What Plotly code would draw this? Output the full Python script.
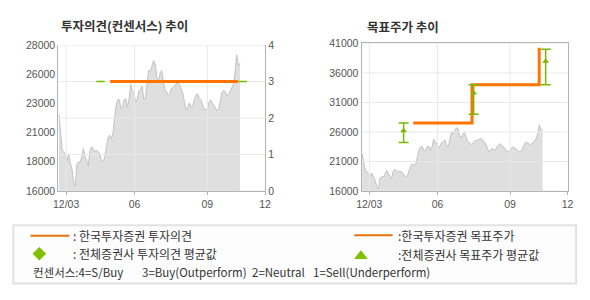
import plotly.graph_objects as go

W, H = 590, 300

# ---------------- data ----------------
# daily closing price (KRW), evenly spaced trading-day index
PRICE = [22300, 20900, 19400, 19230, 18970, 18450, 19050, 18300, 17790, 16740,
         16400, 18200, 18400, 18350, 18800, 19500, 18840, 18500, 18050, 19300,
         19630, 19500, 19230, 19370, 19230, 19100, 18500, 18450, 18700, 19400,
         20300, 20600, 20300, 20600, 21800, 23000, 23500, 23500, 22800, 22900,
         23500, 23600, 22900, 23500, 24800, 24230, 24100, 23310, 23570, 24230,
         24360, 24630, 23570, 23570, 24760, 25940, 25810, 26200, 26730, 26500,
         25400, 24950, 25700, 25900, 24900, 24300, 24150, 23900, 24000, 24450,
         24500, 24650, 24850, 24890, 24750, 24400, 24000, 23300, 22650, 22900,
         23250, 22900, 23000, 23500, 23900, 24000, 23600, 23500, 23100, 22700,
         22750, 22700, 23300, 23500, 23250, 23000, 22850, 22600, 22750, 23400,
         24100, 24300, 24150, 23850, 23950, 24200, 24500, 24800, 25700, 27200,
         26300, 26500]
DAY = list(range(len(PRICE)))

X_RANGE = [-0.4, 126.4]
X_TICK_POS = [4.4, 46.4, 91.0, 126.4]
X_TICK_TEXT = ["12/03", "06", "09", "12"]

# investment opinion (Korea Investment & Securities): 3 = Buy
OPINION_DAYS = [31.4, 109.8]
OPINION_VALUES = [3, 3]
# consensus average opinion
CONS_DAYS = [25.5, 112.6]
CONS_VALUES = [3, 3]

# target price (Korea Investment & Securities)
TARGET_DAYS = [31.4, 67.6, 108.9, 109.8]
TARGET_VALUES = [27500, 34000, 40000, 40000]
# consensus target price: mean, high, low
AVG_TP_DAYS = [25.5, 68.6, 112.9]
AVG_TP_MEAN = [26200, 32600, 38000]
AVG_TP_HIGH = [27500, 34000, 40000]
AVG_TP_LOW = [24200, 29000, 34000]

L_Y_RANGE = [16000, 28000]
L_Y_TICKS = [16000, 18400, 20800, 23200, 25600, 28000]
L_Y_TEXT = ["16000", "18000", "21000", "23000", "26000", "28000"]
L_Y2_RANGE = [0, 4]
L_Y2_TICKS = [0, 1, 2, 3, 4]
R_Y_RANGE = [16000, 41000]
R_Y_TICKS = [16000, 21000, 26000, 31000, 36000, 41000]
R_Y_TEXT = ["16000", "21000", "26000", "31000", "36000", "41000"]

# ---------------- style ----------------
ORANGE = "#ff7300"
GREEN = "#7ab800"
GRID = "#e9e9e9"
AXIS = "#b4b4b4"
TICKFONT = dict(family="Liberation Sans, Arial, sans-serif", size=10.5, color="#555555")
KFONT = "Noto Sans CJK KR, sans-serif"
CONS_HALF = 2.6


def px(x):
    return x / W


def py(y):
    return 1 - y / H


fig = go.Figure()

# ---- left chart: opinion ----
fig.add_trace(go.Scatter(x=DAY, y=PRICE, mode="lines", fill="tozeroy",
                         fillcolor="#dfdfdf", line=dict(color="#c2c2c2", width=1),
                         xaxis="x", yaxis="y", hoverinfo="skip"))
# grid (drawn over the price area)
gx, gy = [], []
for v in L_Y2_TICKS:
    gx += [X_RANGE[0], X_RANGE[1], None]
    gy += [v, v, None]
for t in X_TICK_POS[:-1]:
    gx += [t, t, None]
    gy += [L_Y2_RANGE[0], L_Y2_RANGE[1], None]
fig.add_trace(go.Scatter(x=gx, y=gy, mode="lines", line=dict(color=GRID, width=1),
                         xaxis="x", yaxis="y2", hoverinfo="skip"))
cx, cy = [], []
for d, v in zip(CONS_DAYS, CONS_VALUES):
    cx += [d - CONS_HALF, d + CONS_HALF, None]
    cy += [v, v, None]
fig.add_trace(go.Scatter(x=cx, y=cy, mode="lines", line=dict(color=GREEN, width=1.5),
                         xaxis="x", yaxis="y2", hoverinfo="skip"))
fig.add_trace(go.Scatter(x=OPINION_DAYS, y=OPINION_VALUES, mode="lines",
                         line=dict(color=ORANGE, width=3), xaxis="x", yaxis="y2"))

# ---- right chart: target price ----
fig.add_trace(go.Scatter(x=DAY, y=PRICE, mode="lines", fill="tozeroy",
                         fillcolor="#dfdfdf", line=dict(color="#c2c2c2", width=1),
                         xaxis="x2", yaxis="y3", hoverinfo="skip"))
gx, gy = [], []
for v in R_Y_TICKS:
    gx += [X_RANGE[0], X_RANGE[1], None]
    gy += [v, v, None]
for t in X_TICK_POS[:-1]:
    gx += [t, t, None]
    gy += [R_Y_RANGE[0], R_Y_RANGE[1], None]
fig.add_trace(go.Scatter(x=gx, y=gy, mode="lines", line=dict(color=GRID, width=1),
                         xaxis="x2", yaxis="y3", hoverinfo="skip"))
fig.add_trace(go.Scatter(x=TARGET_DAYS, y=TARGET_VALUES, mode="lines", line_shape="hv",
                         line=dict(color=ORANGE, width=3), xaxis="x2", yaxis="y3"))
fig.add_trace(go.Scatter(
    x=AVG_TP_DAYS, y=AVG_TP_MEAN, mode="markers",
    marker=dict(symbol="triangle-up", size=6, color=GREEN),
    error_y=dict(type="data", symmetric=False,
                 array=[h - m for h, m in zip(AVG_TP_HIGH, AVG_TP_MEAN)],
                 arrayminus=[m - l for m, l in zip(AVG_TP_MEAN, AVG_TP_LOW)],
                 color=GREEN, thickness=1.5, width=5),
    xaxis="x2", yaxis="y3"))

xcommon = dict(range=X_RANGE, tickmode="array", tickvals=X_TICK_POS, ticktext=X_TICK_TEXT,
               showgrid=False, zeroline=False, showline=True, linecolor=AXIS, linewidth=1,
               ticks="outside", ticklen=3, tickcolor=AXIS, tickfont=TICKFONT, fixedrange=True)

fig.update_layout(
    width=W, height=H, margin=dict(l=0, r=0, t=0, b=0), autosize=False,
    paper_bgcolor="white", plot_bgcolor="white", showlegend=False,
    xaxis=dict(domain=[px(54.3), px(265)], anchor="y", **xcommon),
    yaxis=dict(domain=[py(192.7), py(40.7)], anchor="x", range=L_Y_RANGE,
               tickmode="array", tickvals=L_Y_TICKS, ticktext=L_Y_TEXT,
               showgrid=False, zeroline=False, showline=True, linecolor=AXIS,
               tickfont=TICKFONT, ticks="", fixedrange=True),
    yaxis2=dict(overlaying="y", side="right", anchor="x", range=L_Y2_RANGE,
                tickmode="array", tickvals=L_Y2_TICKS,
                showgrid=False, zeroline=False, showline=True, linecolor=AXIS,
                tickfont=TICKFONT, ticks="", fixedrange=True),
    xaxis2=dict(domain=[px(363.3), px(573.3)], anchor="y3", mirror=True, **xcommon),
    yaxis3=dict(domain=[py(192.7), py(39)], anchor="x2", range=R_Y_RANGE,
                tickmode="array", tickvals=R_Y_TICKS, ticktext=R_Y_TEXT,
                showgrid=False, zeroline=False, showline=True, linecolor=AXIS, mirror=True,
                tickfont=TICKFONT, ticks="", fixedrange=True),
)

# ---- titles ----
fig.add_annotation(text="<b>투자의견(컨센서스) 추이</b>", x=px(55), y=py(20), xref="paper", yref="paper",
                   xanchor="left", yanchor="middle", showarrow=False,
                   font=dict(family=KFONT, size=12.5, color="#333333"))
fig.add_annotation(text="<b>목표주가 추이</b>", x=px(367), y=py(21), xref="paper", yref="paper",
                   xanchor="left", yanchor="middle", showarrow=False,
                   font=dict(family=KFONT, size=12.5, color="#333333"))

# ---- legend box ----
shapes = [
    dict(type="rect", xref="paper", yref="paper", x0=px(8.5), x1=px(582), y0=py(289), y1=py(228.5),
         line=dict(color="#e2e2e2", width=2), fillcolor="#fdfdfd", layer="below"),
    dict(type="line", xref="paper", yref="paper", x0=px(26), x1=px(65.7), y0=py(239.3), y1=py(239.3),
         line=dict(color="#e8730c", width=2)),
    dict(type="line", xref="paper", yref="paper", x0=px(356), x1=px(395), y0=py(238.7), y1=py(238.7),
         line=dict(color="#e8730c", width=2)),
    dict(type="path", xref="paper", yref="paper",
         path=f"M {px(35)} {py(251)} L {px(42)} {py(258)} L {px(35)} {py(265)} L {px(28)} {py(258)} Z",
         fillcolor="#80c000", line=dict(width=0)),
    dict(type="path", xref="paper", yref="paper",
         path=f"M {px(362.7)} {py(254.5)} L {px(369.7)} {py(263.5)} L {px(355.7)} {py(263.5)} Z",
         fillcolor="#80c000", line=dict(width=0)),
]
fig.update_layout(shapes=shapes)

legend_texts = [
    (": 한국투자증권 투자의견", 67.5, 239.5, 12),
    (": 전체증권사 투자의견 평균값", 67.5, 258, 12),
    (":한국투자증권 목표주가", 398, 239.5, 12),
    (":전체증권사 목표주가 평균값", 398, 258.5, 12),
    ("컨센서스:4=S/Buy", 26, 277, 11.5),
    ("3=Buy(Outperform)", 138, 277, 11.5),
    ("2=Neutral", 249.6, 277, 11.5),
    ("1=Sell(Underperform)", 312, 277, 11.5),
]
for t, x, y, s in legend_texts:
    fig.add_annotation(text=t, x=px(x), y=py(y), xref="paper", yref="paper",
                       xanchor="left", yanchor="middle", showarrow=False,
                       font=dict(family=KFONT, size=s, color="#333333"))

fig.write_html("out.html")
